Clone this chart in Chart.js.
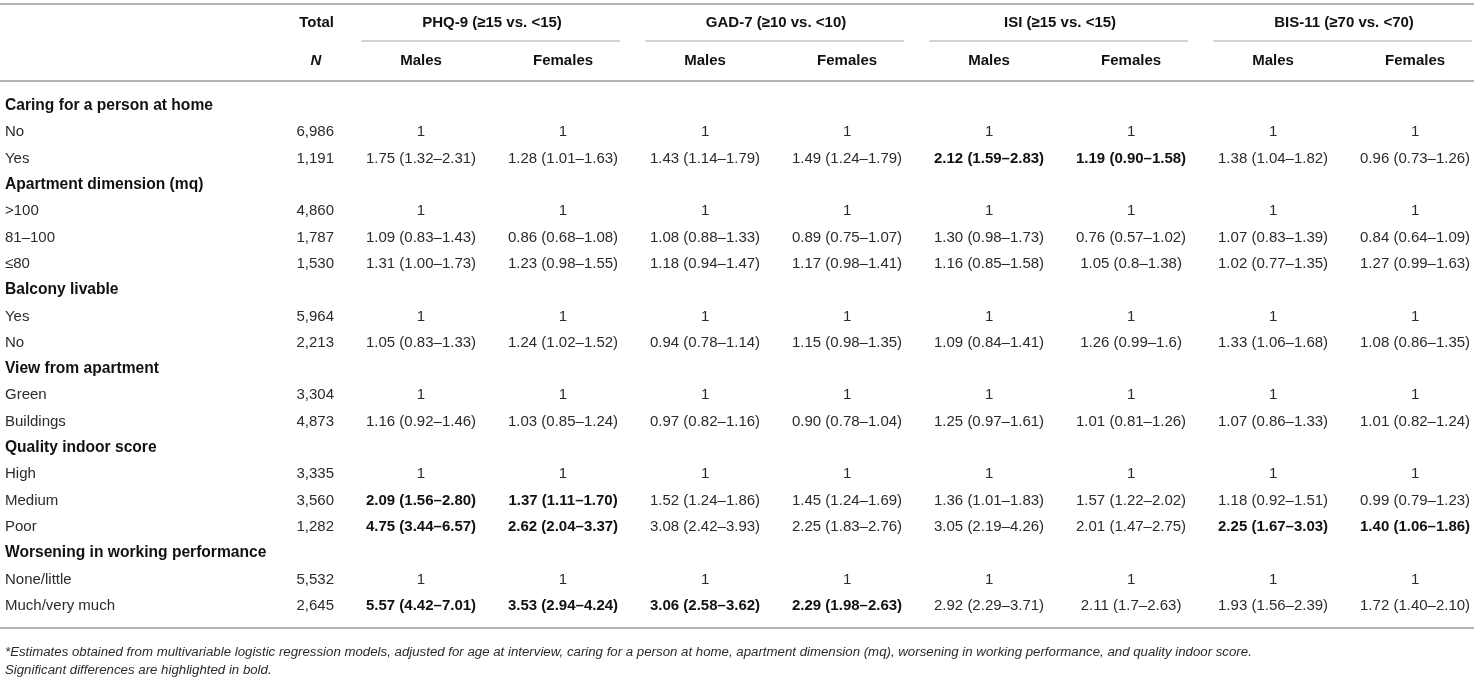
<!DOCTYPE html>
<html>
<head>
<meta charset="utf-8">
<title>Odds ratios table</title>
<script src="https://cdn.jsdelivr.net/npm/chart.js@4.4.1/dist/chart.umd.min.js"></script>
<style>
    body { margin: 0; background: #fff; }
    #wrap { width: 1474px; height: 684px; position: relative; }
</style>
</head>
<body>
<div id="wrap"><canvas id="myChart"></canvas></div>
<script>
// rows of the table (section headers are in bold)
const rowLabels = ['Caring for a person at home', 'No', 'Yes', 'Apartment dimension (mq)', '>100', '81–100', '≤80',
    'Balcony livable', 'Yes', 'No', 'View from apartment', 'Green', 'Buildings', 'Quality indoor score', 'High',
    'Medium', 'Poor', 'Worsening in working performance', 'None/little', 'Much/very much'];
const sectionRows = [0, 3, 7, 10, 13, 17];
const totals = ['', '6,986', '1,191', '', '4,860', '1,787', '1,530', '', '5,964', '2,213', '', '3,304', '4,873',
    '', '3,335', '3,560', '1,282', '', '5,532', '2,645'];

// header labels
const groupLabels = ['PHQ-9 (≥15 vs. <15)', 'GAD-7 (≥10 vs. <10)', 'ISI (≥15 vs. <15)', 'BIS-11 (≥70 vs. <70)'];
const sexLabels = ['Males', 'Females'];

// OR (95% CI) per column
const phqMales = ['', '1', '1.75 (1.32–2.31)', '', '1', '1.09 (0.83–1.43)', '1.31 (1.00–1.73)', '', '1', '1.05 (0.83–1.33)', '', '1', '1.16 (0.92–1.46)', '', '1', '2.09 (1.56–2.80)', '4.75 (3.44–6.57)', '', '1', '5.57 (4.42–7.01)'];
const phqFemales = ['', '1', '1.28 (1.01–1.63)', '', '1', '0.86 (0.68–1.08)', '1.23 (0.98–1.55)', '', '1', '1.24 (1.02–1.52)', '', '1', '1.03 (0.85–1.24)', '', '1', '1.37 (1.11–1.70)', '2.62 (2.04–3.37)', '', '1', '3.53 (2.94–4.24)'];
const gadMales = ['', '1', '1.43 (1.14–1.79)', '', '1', '1.08 (0.88–1.33)', '1.18 (0.94–1.47)', '', '1', '0.94 (0.78–1.14)', '', '1', '0.97 (0.82–1.16)', '', '1', '1.52 (1.24–1.86)', '3.08 (2.42–3.93)', '', '1', '3.06 (2.58–3.62)'];
const gadFemales = ['', '1', '1.49 (1.24–1.79)', '', '1', '0.89 (0.75–1.07)', '1.17 (0.98–1.41)', '', '1', '1.15 (0.98–1.35)', '', '1', '0.90 (0.78–1.04)', '', '1', '1.45 (1.24–1.69)', '2.25 (1.83–2.76)', '', '1', '2.29 (1.98–2.63)'];
const isiMales = ['', '1', '2.12 (1.59–2.83)', '', '1', '1.30 (0.98–1.73)', '1.16 (0.85–1.58)', '', '1', '1.09 (0.84–1.41)', '', '1', '1.25 (0.97–1.61)', '', '1', '1.36 (1.01–1.83)', '3.05 (2.19–4.26)', '', '1', '2.92 (2.29–3.71)'];
const isiFemales = ['', '1', '1.19 (0.90–1.58)', '', '1', '0.76 (0.57–1.02)', '1.05 (0.8–1.38)', '', '1', '1.26 (0.99–1.6)', '', '1', '1.01 (0.81–1.26)', '', '1', '1.57 (1.22–2.02)', '2.01 (1.47–2.75)', '', '1', '2.11 (1.7–2.63)'];
const bisMales = ['', '1', '1.38 (1.04–1.82)', '', '1', '1.07 (0.83–1.39)', '1.02 (0.77–1.35)', '', '1', '1.33 (1.06–1.68)', '', '1', '1.07 (0.86–1.33)', '', '1', '1.18 (0.92–1.51)', '2.25 (1.67–3.03)', '', '1', '1.93 (1.56–2.39)'];
const bisFemales = ['', '1', '0.96 (0.73–1.26)', '', '1', '0.84 (0.64–1.09)', '1.27 (0.99–1.63)', '', '1', '1.08 (0.86–1.35)', '', '1', '1.01 (0.82–1.24)', '', '1', '0.99 (0.79–1.23)', '1.40 (1.06–1.86)', '', '1', '1.72 (1.40–2.10)'];

// significant cells (row indexes), one list per column
const boldRows = [[15, 16, 19], [15, 16, 19], [19], [19], [2], [2], [16], [16]];

const footnotes = ['*Estimates obtained from multivariable logistic regression models, adjusted for age at interview, caring for a person at home, apartment dimension (mq), worsening in working performance, and quality indoor score.',
    'Significant differences are highlighted in bold.'];

const columns = [phqMales, phqFemales, gadMales, gadFemales, isiMales, isiFemales, bisMales, bisFemales];

// layout on the scales: one x unit = one data column, one y unit = one table row
const X_MIN = -2.965, X_MAX = 7.415;
const Y_MIN = -4.03, Y_MAX = 21.977;
const X_LABEL = -2.93, X_TOTAL = -0.613, X_N = -0.74;
const Y_GROUP = -3.156, Y_SEX = -1.711;
const Y_TOP = -3.878, Y_UNDER = -2.471, Y_HEAD = -0.951, Y_BOTTOM = 19.848;
const Y_FOOT = [20.76, 21.445];

const FONT = '"Liberation Sans", Arial, sans-serif';
const TEXT = '#2b2b2b';

const textSet = (texts, xs, ys, opts) => ({
    type: 'scatter',
    data: texts.map((t, i) => ({ x: Array.isArray(xs) ? xs[i] : xs, y: Array.isArray(ys) ? ys[i] : ys })),
    texts: texts,
    align: opts.align || 'center',
    fonts: texts.map((t, i) => opts.font(i)),
    color: opts.color || TEXT,
    pointRadius: 0,
    pointHoverRadius: 0
});

const ruleSet = (x0, x1, y, width, color) => ({
    type: 'line',
    data: [{ x: x0, y: y }, { x: x1, y: y }],
    borderColor: color,
    borderWidth: width,
    pointRadius: 0,
    fill: false
});

const rowIdx = rowLabels.map((r, i) => i);
const datasets = [];

// rules
datasets.push(ruleSet(X_MIN, X_MAX, Y_TOP, 2, '#b3b3b3'));
datasets.push(ruleSet(X_MIN, X_MAX, Y_HEAD, 2, '#b3b3b3'));
datasets.push(ruleSet(X_MIN, X_MAX, Y_BOTTOM, 2, '#b3b3b3'));
for (let g = 0; g < groupLabels.length; g++) {
    datasets.push(ruleSet(2 * g - 0.42, 2 * g + 1.4, Y_UNDER, 1, '#a6a6a6'));
}

// headers
datasets.push(textSet(['Total'], X_TOTAL, Y_GROUP, { align: 'right', font: () => 'bold 15px ' + FONT, color: '#111' }));
datasets.push(textSet(['N'], X_N, Y_SEX, { font: () => 'italic bold 15px ' + FONT, color: '#111' }));
datasets.push(textSet(groupLabels, groupLabels.map((g, i) => 2 * i + 0.5), Y_GROUP, { font: () => 'bold 15px ' + FONT, color: '#111' }));
const sexRow = columns.map((c, i) => sexLabels[i % 2]);
datasets.push(textSet(sexRow, columns.map((c, i) => i), Y_SEX, { font: () => 'bold 15px ' + FONT, color: '#111' }));

// body
datasets.push(textSet(rowLabels, X_LABEL, rowIdx, {
    align: 'left',
    font: (i) => sectionRows.includes(i) ? 'bold 15.6px ' + FONT : '15px ' + FONT
}));
datasets.push(textSet(totals, X_TOTAL, rowIdx, { align: 'right', font: () => '15px ' + FONT }));
columns.forEach((col, c) => {
    datasets.push(textSet(col, c, rowIdx, {
        font: (i) => (boldRows[c].includes(i) ? 'bold ' : '') + '15px ' + FONT
    }));
});

// footnotes
datasets.push(textSet(footnotes, X_LABEL, Y_FOOT, { align: 'left', font: () => 'italic 13.25px ' + FONT }));

const tableText = {
    id: 'tableText',
    afterDatasetsDraw(chart) {
        const ctx = chart.ctx;
        ctx.save();
        ctx.textBaseline = 'middle';
        chart.data.datasets.forEach((ds, d) => {
            if (!ds.texts) return;
            const meta = chart.getDatasetMeta(d);
            meta.data.forEach((pt, i) => {
                const t = ds.texts[i];
                if (!t) return;
                ctx.font = ds.fonts[i];
                ctx.fillStyle = ds.fonts[i].indexOf('bold') > -1 ? '#111' : ds.color;
                ctx.textAlign = ds.align;
                ctx.fillText(t, pt.x, pt.y);
            });
        });
        ctx.restore();
    }
};

const ctx = document.getElementById('myChart').getContext('2d');
const myChart = new Chart(ctx, {
    type: 'scatter',
    data: { datasets: datasets },
    options: {
        responsive: true,
        maintainAspectRatio: false,
        animation: false,
        layout: { padding: 0 },
        plugins: {
            legend: { display: false },
            tooltip: { enabled: false }
        },
        scales: {
            x: { type: 'linear', min: X_MIN, max: X_MAX, display: false },
            y: { type: 'linear', min: Y_MIN, max: Y_MAX, reverse: true, display: false }
        }
    },
    plugins: [tableText]
});
</script>
</body>
</html>
